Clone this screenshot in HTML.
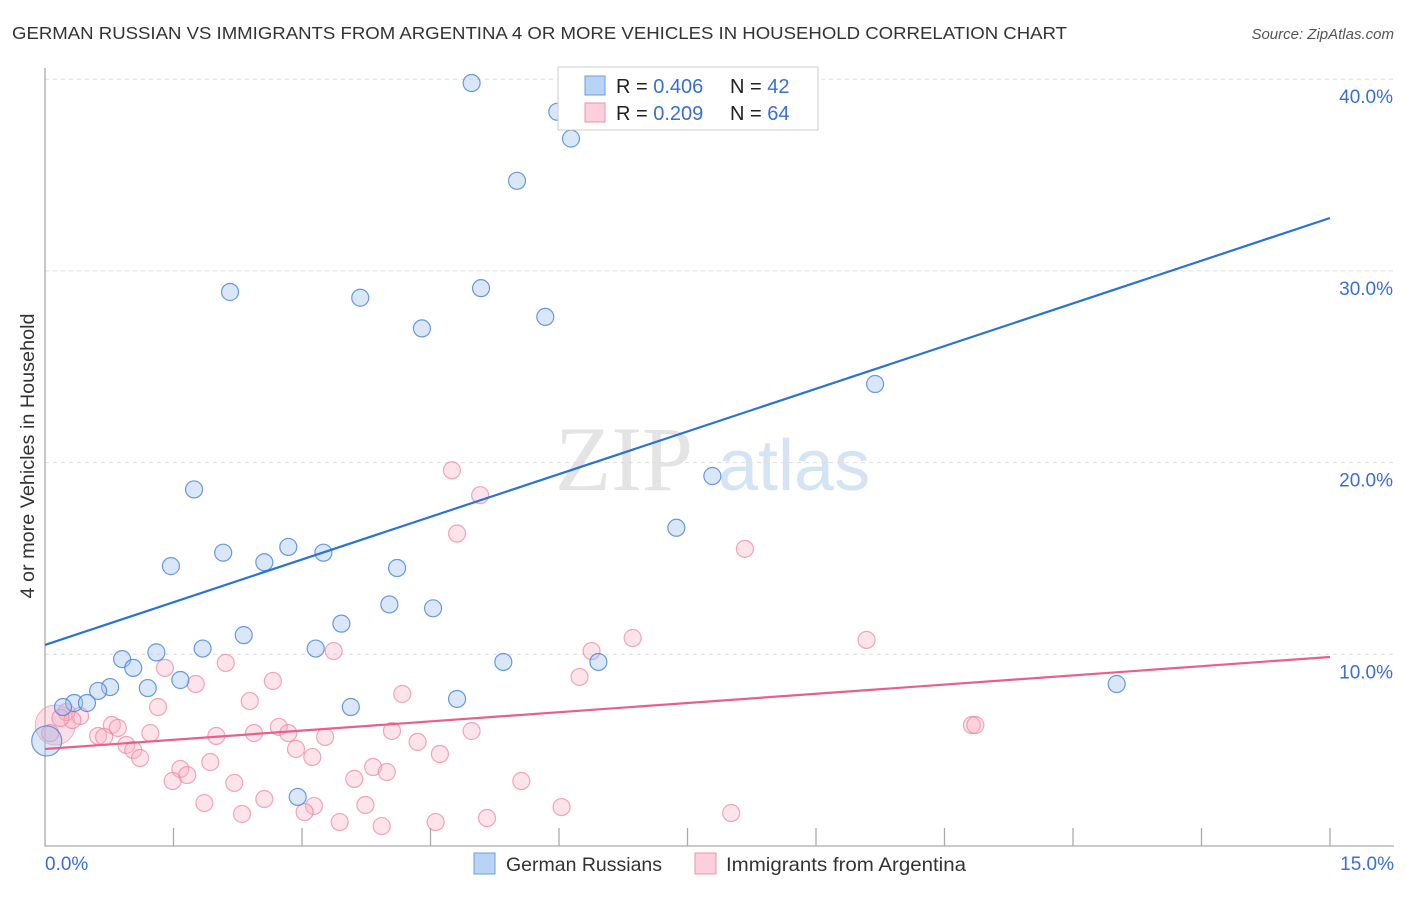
<!DOCTYPE html>
<html><head><meta charset="utf-8"><style>
body{margin:0;background:#fff;font-family:"Liberation Sans",sans-serif}
</style></head><body>
<svg id="chart" width="1406" height="892" xmlns="http://www.w3.org/2000/svg" font-family="Liberation Sans, sans-serif">
<text x="12" y="39" font-size="17.5" fill="#333" textLength="1055" lengthAdjust="spacingAndGlyphs">GERMAN RUSSIAN VS IMMIGRANTS FROM ARGENTINA 4 OR MORE VEHICLES IN HOUSEHOLD CORRELATION CHART</text>
<text x="1394" y="39" font-size="15" fill="#555" text-anchor="end" font-style="italic">Source: ZipAtlas.com</text>
<g>
<text x="555" y="490" font-size="92" fill="#e4e4e4" font-family="Liberation Serif, serif">ZIP</text>
<text x="718" y="490" font-size="72" fill="#d4e4f4">atlas</text>
</g>
<g id="grid"></g>
<g id="axes"></g>
<g id="marks"></g>
<text transform="translate(34,456) rotate(-90)" font-size="19" fill="#333" text-anchor="middle" textLength="285" lengthAdjust="spacingAndGlyphs">4 or more Vehicles in Household</text>
<g>
<rect x="558" y="67" width="260" height="63" fill="#fff" stroke="#ccc"/>
<rect x="585" y="76" width="20" height="19" fill="#b9d3f5" stroke="#6a9de0"/>
<text x="616" y="93" font-size="20" fill="#222">R = <tspan fill="#3a6fd0">0.406</tspan></text>
<text x="730" y="93" font-size="20" fill="#222">N = <tspan fill="#3a6fd0">42</tspan></text>
<rect x="585" y="103" width="20" height="19" fill="#fbcfdc" stroke="#ec93ad"/>
<text x="616" y="120" font-size="20" fill="#222">R = <tspan fill="#3a6fd0">0.209</tspan></text>
<text x="730" y="120" font-size="20" fill="#222">N = <tspan fill="#3a6fd0">64</tspan></text>
</g>
<g>
<rect x="474" y="853" width="21" height="21" fill="#b9d3f5" stroke="#6a9de0"/>
<text x="506" y="871" font-size="19.5" fill="#333" textLength="156" lengthAdjust="spacingAndGlyphs">German Russians</text>
<rect x="695" y="853" width="21" height="21" fill="#fbcfdc" stroke="#ec93ad"/>
<text x="726" y="871" font-size="19.5" fill="#333" textLength="240" lengthAdjust="spacingAndGlyphs">Immigrants from Argentina</text>
</g>
</svg>
<script>
const yTicks=[10,20,30,40];
const yTickLabels=["10.0%","20.0%","30.0%","40.0%"];
const xTickStep=1.5;
const xLabels=["0.0%","15.0%"];
const blueX=[4.98,5.98,6.14,5.51,2.16,3.68,5.09,4.40,5.84,9.69,1.74,7.79,7.37,2.08,2.84,1.47,2.56,3.25,4.11,4.02,4.53,3.46,2.32,1.30,1.84,3.16,0.90,1.03,1.58,5.35,6.46,0.76,0.62,1.20,0.34,0.49,0.21,3.57,4.81,12.51,2.95,0.02];
const blueY=[39.8,38.3,36.9,34.7,28.9,28.6,29.1,27.0,27.6,24.1,18.6,19.3,16.6,15.3,15.6,14.6,14.8,15.3,14.5,12.6,12.4,11.6,11.0,10.1,10.3,10.3,9.75,9.29,8.66,9.6,9.6,8.29,8.09,8.24,7.46,7.46,7.25,7.25,7.67,8.45,2.56,5.48];
const pinkX=[4.75,5.08,4.81,8.17,6.86,9.59,6.38,3.37,1.40,2.11,1.76,6.24,2.66,4.17,2.39,1.32,0.41,0.25,0.32,0.78,0.85,2.73,2.84,2.00,1.23,2.44,3.27,4.05,4.98,0.62,0.69,0.95,1.03,1.11,2.93,3.12,4.35,4.61,10.82,10.86,1.93,1.58,1.66,1.49,3.61,3.83,3.99,5.56,2.21,2.56,1.86,3.14,3.74,6.03,2.30,3.03,3.44,3.93,4.56,5.16,8.01,0.12,0.06,0.18];
const pinkY=[19.6,18.3,16.3,15.5,10.85,10.75,10.17,10.17,9.29,9.55,8.45,8.82,8.61,7.93,7.56,7.25,6.78,6.99,6.57,6.31,6.16,6.21,5.89,5.74,5.89,5.89,5.69,6.0,6.0,5.74,5.69,5.27,5.01,4.59,5.06,4.64,5.43,4.8,6.31,6.31,4.38,4.02,3.7,3.39,3.5,4.12,3.86,3.39,3.29,2.45,2.24,2.09,2.14,2.03,1.67,1.77,1.25,1.04,1.25,1.46,1.72,6.31,5.89,6.68];
const blueLine=[10.49,32.76];
const pinkLine=[5.06,9.86];
const X0=45,X1=1330,Y0=846,PX=(X1-X0)/15,PY=19.17;
const sx=v=>X0+v*PX, sy=v=>Y0-v*PY;
const NS="http://www.w3.org/2000/svg";
function mk(p,t,a){const e=document.createElementNS(NS,t);for(const k in a)e.setAttribute(k,a[k]);p.appendChild(e);return e;}
const grid=document.getElementById('grid'),axes=document.getElementById('axes'),marks=document.getElementById('marks');
yTicks.forEach((v,i)=>{
 const l=mk(grid,'line',{x1:X0,x2:1394,y1:sy(v),y2:sy(v),stroke:'#ddd','stroke-dasharray':'4,4'});
 
 
 const t=mk(grid,'text',{x:1393,y:sy(v)+24,'font-size':19,fill:'#3a6fd0','text-anchor':'end'});
 t.textContent=yTickLabels[i];
 
 
});
const ax=mk(axes,'path',{d:`M${X0},68V${Y0}H1394`,fill:'none',stroke:'#aaa','stroke-width':1.3});


for(let v=xTickStep;v<=15.001;v+=xTickStep){
 const tk=mk(axes,'line',{x1:sx(v),x2:sx(v),y1:828,y2:Y0,stroke:'#aaa','stroke-width':1.3});
 
 
}
const xl0=mk(axes,'text',{x:45,y:870,'font-size':19,fill:'#3a6fd0'});xl0.textContent=xLabels[0];


const xl1=mk(axes,'text',{x:1394,y:870,'font-size':19,fill:'#3a6fd0','text-anchor':'end'});xl1.textContent=xLabels[1];


const bp=mk(marks,'circle',{cx:sx(pinkX[61]),cy:sy(pinkY[61]),r:20,fill:'rgba(245,160,185,0.35)',stroke:'rgba(236,130,160,0.6)'});


pinkX.forEach((x,i)=>{
 if(i===61)return;
 const c=mk(marks,'circle',{cx:sx(x),cy:sy(pinkY[i]),r:8.5,fill:'rgba(248,175,196,0.35)',stroke:'rgba(236,130,160,0.7)','stroke-width':1.2});
 
 
});
blueX.forEach((x,i)=>{
 const c=mk(marks,'circle',{cx:sx(x),cy:sy(blueY[i]),r:i===41?15:8.5,fill:'rgba(160,195,240,0.4)',stroke:'rgba(70,130,215,0.8)','stroke-width':1.2});
 
 
});
const bl=mk(marks,'line',{x1:sx(0),y1:sy(blueLine[0]),x2:sx(15),y2:sy(blueLine[1]),stroke:'#2a72d8','stroke-width':2.2});


const pl=mk(marks,'line',{x1:sx(0),y1:sy(pinkLine[0]),x2:sx(15),y2:sy(pinkLine[1]),stroke:'#e8608a','stroke-width':2.2});


</script>
</body></html>
